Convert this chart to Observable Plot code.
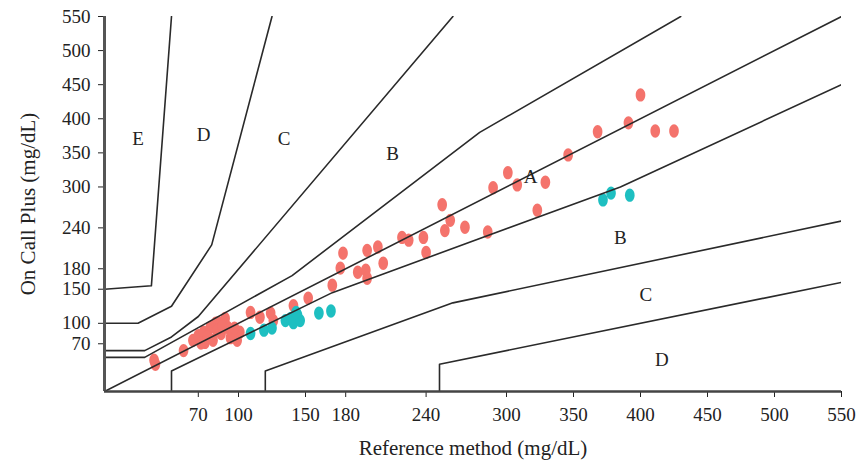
<!DOCTYPE html>
<html><head><meta charset="utf-8">
<script src="https://cdn.jsdelivr.net/npm/d3@7"></script>
<script src="https://cdn.jsdelivr.net/npm/@observablehq/plot@0.6"></script>
<style>body{margin:0;background:#fff}</style>
</head><body><div id="chart"></div>
<script>
// Tick labels (both axes)
const tickValues = [70, 100, 150, 180, 240, 300, 350, 400, 450, 500, 550];

// Series 1 (red): reference vs On Call Plus
const redRef  = [37, 38, 59, 66, 70, 74, 79, 83, 85, 90, 92, 94, 99, 101, 96, 87, 81, 75, 72, 77, 84, 88, 97,
                 109, 116, 124, 126, 141, 152, 170, 176, 178, 189, 195, 196, 196, 204, 208, 222, 227, 238, 240,
                 252, 258, 254, 269, 286, 290, 301, 308, 329, 323, 346, 368, 391, 400, 411, 425];
const redMeas = [46, 40, 60, 75, 82, 87, 94, 100, 101, 107, 94, 79, 75, 87, 85, 85, 75, 72, 71, 80, 90, 95, 93,
                 116, 109, 115, 104, 126, 137, 156, 181, 203, 175, 178, 166, 207, 212, 188, 226, 222, 226, 204,
                 274, 251, 236, 241, 234, 299, 321, 303, 307, 266, 347, 381, 394, 435, 382, 382];

// Series 2 (teal)
const tealRef  = [109, 119, 125, 135, 139, 144, 141, 146, 143, 160, 169, 372, 378, 392];
const tealMeas = [85, 90, 93, 104, 107, 112, 101, 104, 116, 115, 118, 281, 291, 288];

// Parkes error grid zone boundaries [reference, meter]
const identityLine = [[0, 0], [550, 550]];
const zoneAUpper = [[0, 50], [30, 50], [140, 170], [280, 380], [430, 550]];
const zoneALower = [[50, 0], [50, 30], [170, 145], [385, 300], [550, 450]];
const zoneBUpper = [[0, 60], [30, 60], [50, 80], [70, 110], [260, 550]];
const zoneBLower = [[120, 0], [120, 30], [260, 130], [550, 250]];
const zoneCUpper = [[0, 100], [25, 100], [50, 125], [80, 215], [125, 550]];
const zoneCLower = [[250, 0], [250, 40], [550, 160]];
const zoneDUpper = [[0, 150], [35, 155], [50, 550]];

// Zone labels
const zoneLabels = ["E", "D", "C", "B", "A", "B", "C", "D"];
const zoneLabelX = [25, 74, 134, 215, 318, 385, 404, 416];
const zoneLabelY = [371, 377, 371, 348, 315, 226, 141, 46];

const redData = redRef.map((x, i) => ({x, y: redMeas[i]}));
const tealData = tealRef.map((x, i) => ({x, y: tealMeas[i]}));
const labelData = zoneLabels.map((t, i) => ({t, x: zoneLabelX[i], y: zoneLabelY[i]}));
const boundaries = [identityLine, zoneAUpper, zoneALower, zoneBUpper, zoneBLower, zoneCUpper, zoneCLower, zoneDUpper];

const ellipse = {
  draw(ctx, size) {
    const r = Math.sqrt(size / Math.PI), rx = r * 0.72, ry = r, k = 0.5523;
    ctx.moveTo(0, -ry);
    ctx.bezierCurveTo(k * rx, -ry, rx, -k * ry, rx, 0);
    ctx.bezierCurveTo(rx, k * ry, k * rx, ry, 0, ry);
    ctx.bezierCurveTo(-k * rx, ry, -rx, k * ry, -rx, 0);
    ctx.bezierCurveTo(-rx, -k * ry, -k * rx, -ry, 0, -ry);
    ctx.closePath();
  }
};

const serif = '"Liberation Serif", "Times New Roman", serif';

const chart = Plot.plot({
  width: 865, height: 463,
  marginLeft: 104, marginRight: 24, marginTop: 16, marginBottom: 72,
  style: {fontFamily: serif, fontSize: "19px", color: "#222", background: "#fff"},
  x: {domain: [0, 550], ticks: tickValues, tickSize: 6, tickPadding: 10, label: null},
  y: {domain: [0, 550], ticks: tickValues, tickSize: 6, tickPadding: 8, label: null},
  marks: [
    Plot.dot(redData, {x: "x", y: "y", fill: "#F4736C", r: 6.7, symbol: ellipse}),
    Plot.dot(tealData, {x: "x", y: "y", fill: "#1EBFC1", r: 6.7, symbol: ellipse}),
    ...boundaries.map(b => Plot.line(b, {x: d => d[0], y: d => d[1], stroke: "#2a2a2a", strokeWidth: 1.6, clip: true})),
    Plot.ruleX([0], {stroke: "#555", strokeWidth: 3}),
    Plot.ruleY([0], {stroke: "#444", strokeWidth: 2.5}),
    Plot.text(labelData, {x: "x", y: "y", text: "t", fontSize: 19, fill: "#222"}),
    Plot.text(["Reference method (mg/dL)"], {frameAnchor: "bottom", textAnchor: "middle", lineAnchor: "middle", dy: 57, fontSize: 21, fill: "#222"}),
    Plot.text(["On Call Plus (mg/dL)"], {frameAnchor: "left", textAnchor: "middle", lineAnchor: "middle", dx: -76, rotate: -90, fontSize: 21, fill: "#222"})
  ]
});
document.getElementById("chart").appendChild(chart);
</script>
</body></html>
